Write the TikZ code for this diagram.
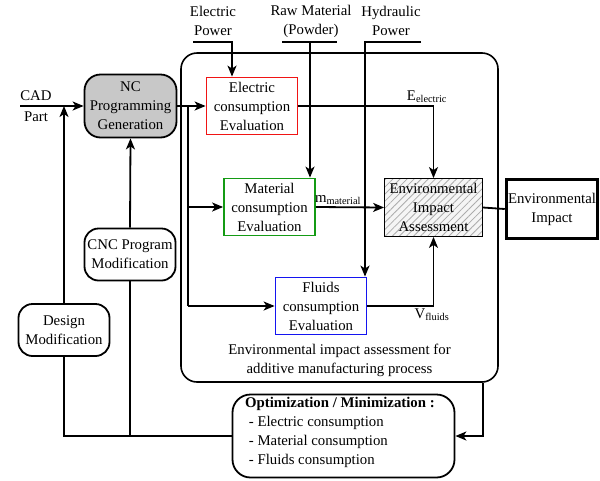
\documentclass[tikz,border=0pt]{standalone}
\usepackage{fontspec}
\setmainfont{Liberation Serif}
\usetikzlibrary{patterns.meta,arrows.meta}
\newcommand{\fs}{\fontsize{14.8}{19}\selectfont}
\begin{document}
\begin{tikzpicture}[x=1pt,y=-1pt,
  every node/.style={font=\fs, inner sep=0pt, align=center},
  conn/.style={line width=1.8pt},
  arr/.style={line width=1.8pt, -{Stealth[length=11pt,width=9pt,inset=3pt]}},
  evalbox/.style={draw, line width=1.8pt, minimum width=91pt, minimum height=57pt, fill=white},
  rbox/.style={draw, line width=1.8pt, rounded corners=14pt, fill=white, minimum width=91pt, minimum height=52pt},
  lbl/.style={}
]
\useasboundingbox (0,0) rectangle (600,480);
% big container
\node[draw, line width=1.6pt, rounded corners=16pt, minimum width=317pt, minimum height=329pt] (big) at (339.5,217.5) {};
\node (cap) at (339.5,360) {Environmental impact assessment for\\additive manufacturing process};

% nodes
\node[rbox, fill={rgb,255:red,200;green,200;blue,200}, minimum width=92pt, minimum height=63pt, rounded corners=16pt] (nc) at (130.5,106) {NC\\Programming\\Generation};
\node[evalbox, draw={rgb,255:red,240;green,20;blue,20}] (elec) at (252,106) {Electric\\consumption\\Evaluation};
\node[evalbox, draw={rgb,255:red,20;green,155;blue,20}] (mat) at (269.5,207) {Material\\consumption\\Evaluation};
\node[evalbox, draw={rgb,255:red,20;green,20;blue,240}] (fluid) at (321,306) {Fluids\\consumption\\Evaluation};
\node[draw, line width=1.8pt, minimum width=98pt, minimum height=58pt,
  preaction={fill=gray!8},
  pattern={Lines[angle=45,distance=5pt,line width=0.8pt]}, pattern color=gray!65] (eia) at (433.5,207.5) {};
\node at (eia) {Environmental\\Impact\\Assessment};
\node[draw, line width=3.5pt, minimum width=91pt, minimum height=59pt] (ei) at (552,209) {Environmental\\Impact};
\node[rbox, minimum width=222pt, minimum height=83pt, rounded corners=18pt] (opt) at (343.5,436) {};
\node[anchor=north west, align=left] (opttxt) at (245,397) {\textbf{Optimization / Minimization :}\\\ - Electric consumption\\\ - Material consumption\\\ - Fluids consumption};
\node[rbox] (cnc) at (130,254.5) {CNC Program\\Modification};
\node[rbox] (des) at (64,330) {Design\\Modification};

% top inputs
\node (ep) at (213,21) {Electric\\Power};
\node (rm) at (311,21) {Raw Material\\(Powder)};
\node (hp) at (391,21) {Hydraulic\\Power};
\coordinate (epl) at (193,42); \coordinate (epr) at (232,42);
\coordinate (rml) at (282,42); \coordinate (rmr) at (337,42); \coordinate (rmm) at (310,42);
\coordinate (hpl) at (365,42); \coordinate (hpr) at (421,42);
\draw[arr] (epl) -- (epr) -- (epr |- elec.north);
\draw[conn] (rml) -- (rmr);
\draw[arr] (rmm) -- (rmm |- mat.north);
\draw[arr] (hpr) -- (hpl) -- (hpl |- fluid.north);

% CAD input
\coordinate (cad) at (20,106);
\node (cadt) at (36,96) {CAD};
\node (part) at (36,117) {Part};
\draw[arr] (cad) -- (nc.west);

% NC to evaluations
\coordinate (b1) at (188,106);
\draw[arr] (nc.east) -- (elec.west);
\draw[conn] (b1) -- (b1 |- fluid.west);
\draw[arr] (b1 |- mat.west) -- (mat.west);
\draw[arr] (b1 |- fluid.west) -- (fluid.west);

% evaluations to assessment
\draw[arr] (elec.east) -- (eia.north |- elec.east) -- (eia.north);
\node (el) at (427,97) {E\textsubscript{electric}};
\draw[arr] (mat.east) -- (eia.west);
\node (ml) at (338,200) {m\textsubscript{material}};
\draw[arr] (fluid.east) -- (eia.south |- fluid.east) -- (eia.south);
\node (vl) at (432,315) {V\textsubscript{fluids}};
\draw[conn] (eia.east) -- (ei.west);

% to optimization
\draw[arr] (eia.east |- big.south) -- (eia.east |- opt.east) -- (opt.east);

% feedback
\draw[conn] (opt.west) -- (des.south |- opt.west) -- (des.south);
\draw[arr] (des.north) -- (des.north |- cad);
\draw[conn] (cnc.south |- opt.west) -- (cnc.south);
\draw[arr] (cnc.north) -- (nc.south);
\end{tikzpicture}
\end{document}
